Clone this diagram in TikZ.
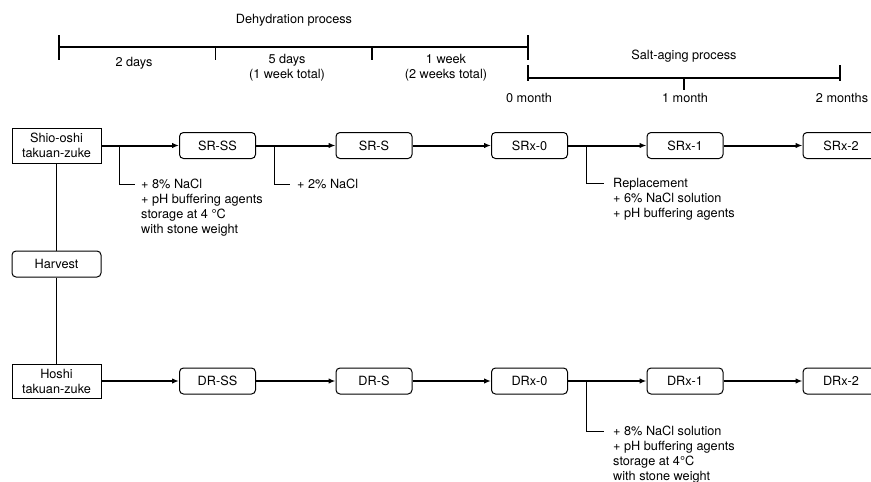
\documentclass[tikz,border=0pt]{standalone}
\usepackage{fontspec}
\setmainfont{TeX Gyre Heros}
\usetikzlibrary{arrows.meta}
\begin{document}
\begin{tikzpicture}[x=1pt,y=-1pt,
  every node/.style={font=\fontsize{12.7}{15}\selectfont, inner sep=0pt},
  sqbox/.style={draw, line width=1pt, minimum width=89pt, align=center},
  stagebox/.style={draw, line width=1pt, rounded corners=4pt, minimum width=76pt, minimum height=26pt},
  flow/.style={line width=2pt, -{Latex[length=7pt,width=5.5pt]}},
  trunk/.style={line width=1.7pt},
  branch/.style={line width=1pt},
  scale line/.style={line width=1.6pt},
  note/.style={anchor=north west, align=left},
  lbl/.style={align=center}]
\clip (0,0) rectangle (871,482);
\useasboundingbox (0,0) rectangle (871,482);

% time scales
\coordinate (d0) at (59,47);
\coordinate (d1) at (215.5,47);
\coordinate (d2) at (372,47);
\coordinate (d3) at (528,47);
\draw[scale line] (d0) -- (d3);
\draw[scale line] (d0) ++(0,-12) -- ++(0,25);
\draw[scale line] (d3) ++(0,-12) -- ++(0,25);
\draw[scale line] (d1) -- ++(0,13);
\draw[scale line] (d2) -- ++(0,13);
\node[lbl] (dehyd) at (294,20) {Dehydration process};
\node[lbl] (t1) at (134,63) {2 days};
\node[lbl, anchor=north] (t2) at (287,54) {5 days\\(1 week total)};
\node[lbl, anchor=north] (t3) at (446,54) {1 week\\(2 weeks total)};

\coordinate (s0) at (528,78);
\coordinate (s1) at (684,78);
\coordinate (s2) at (840,78);
\draw[scale line] (s0) -- (s2);
\draw[scale line] (s0) ++(0,-13) -- ++(0,16);
\draw[scale line] (s2) ++(0,-13) -- ++(0,16);
\draw[scale line] (s1) -- ++(0,12);
\node[lbl] (salt) at (684,56) {Salt-aging process};
\node[lbl] (m0) at (529,98) {0 month};
\node[lbl] (m1) at (685,98) {1 month};
\node[lbl] (m2) at (842,98) {2 months};

% raw materials
\node[sqbox, minimum height=35pt] (shio) at (56.5,145.5) {Shio-oshi\\takuan-zuke};
\node[stagebox, minimum width=89pt] (harv) at (56.5,264) {Harvest};
\node[sqbox, minimum height=34pt] (hoshi) at (56.5,381) {Hoshi\\takuan-zuke};
\draw[trunk] (shio) -- (harv);
\draw[trunk] (harv) -- (hoshi);

% salted series
\node[stagebox] (srss) at (217.5,145.5) {SR-SS};
\node[stagebox] (srs)  at (374,145.5) {SR-S};
\node[stagebox] (srx0) at (529.5,145.5) {SRx-0};
\node[stagebox] (srx1) at (685,145.5) {SRx-1};
\node[stagebox] (srx2) at (841,145.5) {SRx-2};
\draw[flow] (shio) -- (srss);
\draw[flow] (srss) -- (srs);
\draw[flow] (srs) -- (srx0);
\draw[flow] (srx0) -- (srx1);
\draw[flow] (srx1) -- (srx2);

% dried series
\node[stagebox] (drss) at (217.5,381) {DR-SS};
\node[stagebox] (drs)  at (374,381) {DR-S};
\node[stagebox] (drx0) at (529.5,381) {DRx-0};
\node[stagebox] (drx1) at (685,381) {DRx-1};
\node[stagebox] (drx2) at (841,381) {DRx-2};
\draw[flow] (hoshi) -- (drss);
\draw[flow] (drss) -- (drs);
\draw[flow] (drs) -- (drx0);
\draw[flow] (drx0) -- (drx1);
\draw[flow] (drx1) -- (drx2);

% treatments
\coordinate (b1) at (119,145.5);
\coordinate (e1) at (135,184);
\draw[branch] (b1) |- (e1);
\node[note] (n1) at (141,179) {+ 8\% NaCl\\+ pH buffering agents\\storage at 4 \textdegree C\\with stone weight};

\coordinate (b2) at (274,145.5);
\coordinate (e2) at (290,184);
\draw[branch] (b2) |- (e2);
\node[note] (n2) at (297,179) {+ 2\% NaCl};

\coordinate (b3) at (586,145.5);
\coordinate (e3) at (604,183);
\draw[branch] (b3) |- (e3);
\node[note] (n3) at (613,178) {Replacement\\+ 6\% NaCl solution\\+ pH buffering agents};

\coordinate (b4) at (586,381);
\coordinate (e4) at (604,431);
\draw[branch] (b4) |- (e4);
\node[note] (n4) at (613,425.5) {+ 8\% NaCl solution\\+ pH buffering agents\\storage at 4\textdegree C\\with stone weight};
\end{tikzpicture}
\end{document}
